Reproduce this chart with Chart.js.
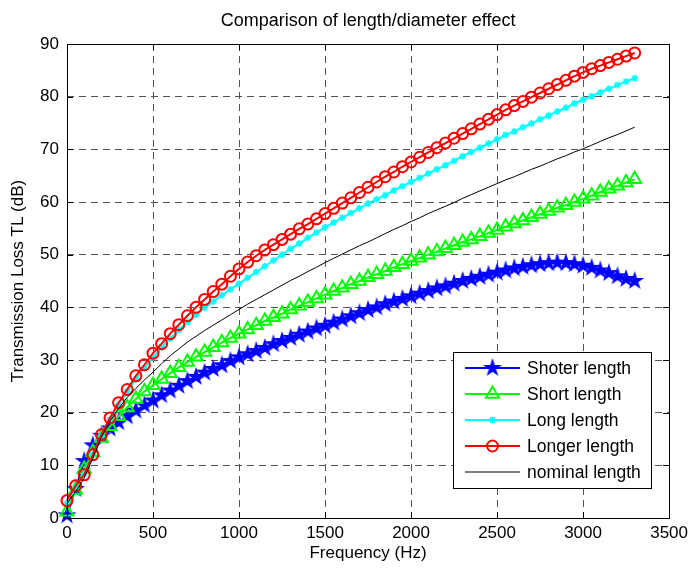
<!DOCTYPE html>
<html lang="en">
<head>
  <meta charset="UTF-8">
  <title>Comparison of length/diameter effect</title>
  <script src="https://cdn.jsdelivr.net/npm/chart.js"></script>
  <style>
    body {
      margin: 0;
      background: #fff;
    }
    .container {
      width: 693px;
      height: 568px;
    }
  </style>
</head>
<body>
  <div class="container">
    <canvas id="tlChart"></canvas>
  </div>

  <script>
    // Frequency grid (Hz)
    const freq = [
      0, 50, 100, 150, 200, 250, 300, 350, 400, 450, 500, 550, 600, 650, 700, 750, 800, 850, 900, 950,
      1000, 1050, 1100, 1150, 1200, 1250, 1300, 1350, 1400, 1450, 1500, 1550, 1600, 1650, 1700, 1750,
      1800, 1850, 1900, 1950, 2000, 2050, 2100, 2150, 2200, 2250, 2300, 2350, 2400, 2450, 2500, 2550,
      2600, 2650, 2700, 2750, 2800, 2850, 2900, 2950, 3000, 3050, 3100, 3150, 3200, 3250, 3300
    ];

    // Transmission loss (dB) for each muffler length
    const shoterTL = [
      0.5, 5.5, 10.8, 13.8, 15.6, 17.0, 18.2, 19.3, 20.4, 21.4, 22.3, 23.3, 24.2, 25.1, 26.0, 26.8, 27.6, 28.3, 29.0, 29.8,
      30.5, 31.1, 31.7, 32.3, 33.0, 33.6, 34.2, 34.8, 35.4, 36.0, 36.5, 37.1, 37.7, 38.3, 38.9, 39.5,
      40.0, 40.6, 41.1, 41.6, 42.1, 42.6, 43.1, 43.6, 44.0, 44.5, 45.0, 45.4, 45.8, 46.2, 46.6, 47.0,
      47.4, 47.7, 48.0, 48.2, 48.4, 48.5, 48.4, 48.2, 47.9, 47.5, 47.0, 46.5, 45.9, 45.4, 45.0
    ];
    const shortTL = [
      1.2, 5.3, 9.3, 12.5, 15.2, 17.4, 19.3, 21.0, 22.6, 24.0, 25.2, 26.4, 27.5, 28.6, 29.6, 30.6, 31.5, 32.4, 33.3, 34.2,
      35.0, 35.8, 36.6, 37.4, 38.1, 38.8, 39.6, 40.3, 41.0, 41.7, 42.4, 43.1, 43.7, 44.4, 45.0, 45.7,
      46.3, 46.9, 47.6, 48.2, 48.8, 49.4, 50.0, 50.6, 51.2, 51.8, 52.4, 52.9, 53.5, 54.1, 54.7, 55.3,
      55.9, 56.5, 57.1, 57.7, 58.3, 58.9, 59.4, 60.0, 60.6, 61.2, 61.9, 62.5, 63.1, 63.7, 64.3
    ];
    const longTL = [
      2.8, 5.9, 8.4, 12.0, 15.6, 18.7, 21.5, 24.0, 26.4, 28.5, 30.5, 32.4, 34.1, 35.7, 37.2, 38.6, 39.9, 41.1, 42.3, 43.4,
      44.5, 45.6, 46.7, 47.8, 48.9, 50.0, 51.1, 52.1, 53.2, 54.2, 55.2, 56.1, 57.0, 57.9, 58.8, 59.7,
      60.5, 61.3, 62.2, 63.0, 63.8, 64.6, 65.4, 66.2, 67.0, 67.8, 68.7, 69.5, 70.3, 71.1, 71.9, 72.7,
      73.4, 74.2, 74.9, 75.7, 76.4, 77.2, 77.9, 78.7, 79.4, 80.1, 80.8, 81.5, 82.2, 82.9, 83.5
    ];
    const longerTL = [
      3.3, 6.1, 8.2, 12.0, 15.8, 19.0, 21.9, 24.4, 27.0, 29.1, 31.3, 33.1, 35.0, 36.7, 38.4, 40.0, 41.5, 43.0, 44.4, 45.9,
      47.3, 48.6, 49.8, 50.9, 51.9, 52.9, 53.9, 54.9, 55.8, 56.8, 57.8, 58.8, 59.8, 60.8, 61.8, 62.8,
      63.8, 64.8, 65.7, 66.7, 67.6, 68.5, 69.4, 70.3, 71.2, 72.1, 73.0, 73.9, 74.8, 75.7, 76.6, 77.5,
      78.3, 79.1, 79.9, 80.7, 81.5, 82.3, 83.1, 83.9, 84.6, 85.3, 85.9, 86.5, 87.1, 87.7, 88.3
    ];
    const nominalTL = [
      2.7, 5.0, 7.6, 11.3, 15.3, 18.4, 20.8, 22.9, 24.6, 26.2, 27.7, 29.3, 30.8, 32.1, 33.4, 34.5, 35.6, 36.6, 37.6, 38.6,
      39.6, 40.6, 41.5, 42.4, 43.3, 44.2, 45.1, 45.9, 46.8, 47.6, 48.5, 49.3, 50.1, 50.9, 51.7, 52.4,
      53.2, 54.0, 54.8, 55.5, 56.3, 57.0, 57.8, 58.5, 59.2, 59.9, 60.7, 61.4, 62.1, 62.8, 63.5, 64.2,
      64.8, 65.5, 66.2, 66.8, 67.5, 68.2, 68.8, 69.5, 70.1, 70.8, 71.5, 72.2, 72.8, 73.5, 74.2
    ];

    const seriesNames = ['Shoter length', 'Short length', 'Long length', 'Longer length', 'nominal length'];
    const xTicks = [0, 500, 1000, 1500, 2000, 2500, 3000, 3500];
    const yTicks = [0, 10, 20, 30, 40, 50, 60, 70, 80, 90];
    const chartTitle = 'Comparison of length/diameter effect';

    const FONT = 'Arial, "Liberation Sans", Helvetica, sans-serif';

    // five-pointed star marker, drawn once and reused as a pointStyle image
    function pentagram(color, r) {
      const c = document.createElement('canvas');
      const s = Math.ceil(r * 2 + 4);
      c.width = s;
      c.height = s;
      const g = c.getContext('2d');
      g.beginPath();
      for (let k = 0; k < 10; k++) {
        const rad = k % 2 ? r * 0.38 : r;
        const a = -Math.PI / 2 + k * Math.PI / 5;
        g.lineTo(s / 2 + rad * Math.cos(a), s / 2 + rad * Math.sin(a));
      }
      g.closePath();
      g.fillStyle = color;
      g.fill();
      g.lineWidth = 1.2;
      g.strokeStyle = color;
      g.stroke();
      return c;
    }
    const blueStar = pentagram('#0000ff', 8);

    function toPoints(values) {
      return values.map((v, i) => ({ x: freq[i], y: v }));
    }

    const datasets = [
      {
        label: seriesNames[0], data: toPoints(shoterTL),
        borderColor: '#0000ff', borderWidth: 2,
        pointStyle: blueStar, pointRadius: 8,
        order: 5
      },
      {
        label: seriesNames[1], data: toPoints(shortTL),
        borderColor: '#00ff00', borderWidth: 2,
        pointStyle: 'triangle', pointRadius: 7.5, pointBorderWidth: 2,
        pointBorderColor: '#00ff00', pointBackgroundColor: 'rgba(0,0,0,0)',
        order: 4
      },
      {
        label: seriesNames[2], data: toPoints(longTL),
        borderColor: '#00ffff', borderWidth: 2,
        pointStyle: 'star', pointRadius: 3.5, pointBorderWidth: 1.5,
        pointBorderColor: '#00ffff', pointBackgroundColor: 'rgba(0,0,0,0)',
        order: 3
      },
      {
        label: seriesNames[3], data: toPoints(longerTL),
        borderColor: '#ff0000', borderWidth: 2,
        pointStyle: 'circle', pointRadius: 5.5, pointBorderWidth: 2,
        pointBorderColor: '#ff0000', pointBackgroundColor: 'rgba(0,0,0,0)',
        order: 2
      },
      {
        label: seriesNames[4], data: toPoints(nominalTL),
        borderColor: '#000000', borderWidth: 1,
        pointRadius: 0,
        order: 1
      }
    ];
    datasets.forEach(d => {
      d.fill = false;
      d.tension = 0;
      d.clip = false;
      d.pointHoverRadius = d.pointRadius;
    });

    // title centred over the axes, plus the axes box with inward tick marks
    const axesBox = {
      id: 'axesBox',
      afterDatasetsDraw(chart) {
        const { ctx, chartArea: a, scales } = chart;
        const len = 6;
        ctx.save();
        ctx.strokeStyle = '#000';
        ctx.lineWidth = 1;
        ctx.beginPath();
        xTicks.forEach(t => {
          const px = Math.round(scales.x.getPixelForValue(t)) + 0.5;
          ctx.moveTo(px, a.bottom); ctx.lineTo(px, a.bottom - len);
          ctx.moveTo(px, a.top); ctx.lineTo(px, a.top + len);
        });
        yTicks.forEach(t => {
          const py = Math.round(scales.y.getPixelForValue(t)) + 0.5;
          ctx.moveTo(a.left, py); ctx.lineTo(a.left + len, py);
          ctx.moveTo(a.right, py); ctx.lineTo(a.right - len, py);
        });
        ctx.stroke();
        ctx.strokeRect(Math.round(a.left) + 0.5, Math.round(a.top) + 0.5,
          Math.round(a.right - a.left), Math.round(a.bottom - a.top));

        ctx.fillStyle = '#000';
        ctx.font = '18px ' + FONT;
        ctx.textAlign = 'center';
        ctx.textBaseline = 'middle';
        ctx.fillText(chartTitle, (a.left + a.right) / 2, 21);
        ctx.restore();
      }
    };

    // boxed legend in the lower right corner of the axes
    const boxLegend = {
      id: 'boxLegend',
      afterDraw(chart) {
        const ctx = chart.ctx;
        const box = { x: 453.5, y: 352.5, w: 198, h: 136 };
        const rowY = [368, 394, 420, 446, 472];
        ctx.save();
        ctx.fillStyle = '#fff';
        ctx.fillRect(box.x, box.y, box.w, box.h);
        ctx.strokeStyle = '#000';
        ctx.lineWidth = 1;
        ctx.strokeRect(box.x, box.y, box.w, box.h);
        ctx.font = '17.5px ' + FONT;
        ctx.textBaseline = 'middle';
        ctx.textAlign = 'left';
        datasets.forEach((d, i) => {
          const y = rowY[i];
          ctx.strokeStyle = d.borderColor;
          ctx.lineWidth = d.borderWidth;
          ctx.beginPath();
          ctx.moveTo(465, y);
          ctx.lineTo(520, y);
          ctx.stroke();
          if (d.pointRadius > 0) {
            ctx.strokeStyle = d.pointBorderColor || d.borderColor;
            ctx.fillStyle = d.pointBackgroundColor || d.borderColor;
            ctx.lineWidth = d.pointBorderWidth || 1;
            Chart.helpers.drawPoint(ctx, {
              pointStyle: d.pointStyle, radius: d.pointRadius, rotation: 0,
              borderWidth: d.pointBorderWidth || 1
            }, 492.5, y);
          }
          ctx.fillStyle = '#000';
          ctx.fillText(d.label, 527, y + 1);
        });
        ctx.restore();
      }
    };

    const ctx = document.getElementById('tlChart').getContext('2d');
    new Chart(ctx, {
      type: 'line',
      data: { datasets: datasets },
      options: {
        responsive: true,
        maintainAspectRatio: false,
        devicePixelRatio: 1,
        animation: false,
        events: [],
        layout: { padding: { left: 0, right: 22, top: 44, bottom: 0 } },
        plugins: {
          legend: { display: false },
          tooltip: { enabled: false },
          title: { display: false }
        },
        scales: {
          x: {
            type: 'linear',
            min: 0,
            max: 3500,
            afterBuildTicks: s => { s.ticks = xTicks.map(v => ({ value: v })); },
            afterFit: s => { s.height = 50; },
            ticks: {
              color: '#000',
              padding: 5,
              maxRotation: 0,
              font: { family: FONT, size: 17 },
              callback: v => String(v)
            },
            grid: { color: '#555', lineWidth: 1, drawTicks: false },
            border: { display: false, dash: [7, 5] },
            title: {
              display: true,
              text: 'Frequency (Hz)',
              color: '#000',
              font: { family: FONT, size: 17 },
              padding: { top: 0, bottom: 4 }
            }
          },
          y: {
            type: 'linear',
            min: 0,
            max: 90,
            afterBuildTicks: s => { s.ticks = yTicks.map(v => ({ value: v })); },
            afterFit: s => { s.width = 67; },
            ticks: {
              color: '#000',
              padding: 8,
              font: { family: FONT, size: 17 },
              callback: v => String(v)
            },
            grid: { color: '#555', lineWidth: 1, drawTicks: false },
            border: { display: false, dash: [7, 5] },
            title: {
              display: true,
              text: 'Transmission Loss TL (dB)',
              color: '#000',
              font: { family: FONT, size: 17 },
              padding: { top: 8, bottom: 0 }
            }
          }
        }
      },
      plugins: [axesBox, boxLegend]
    });
  </script>
</body>
</html>
